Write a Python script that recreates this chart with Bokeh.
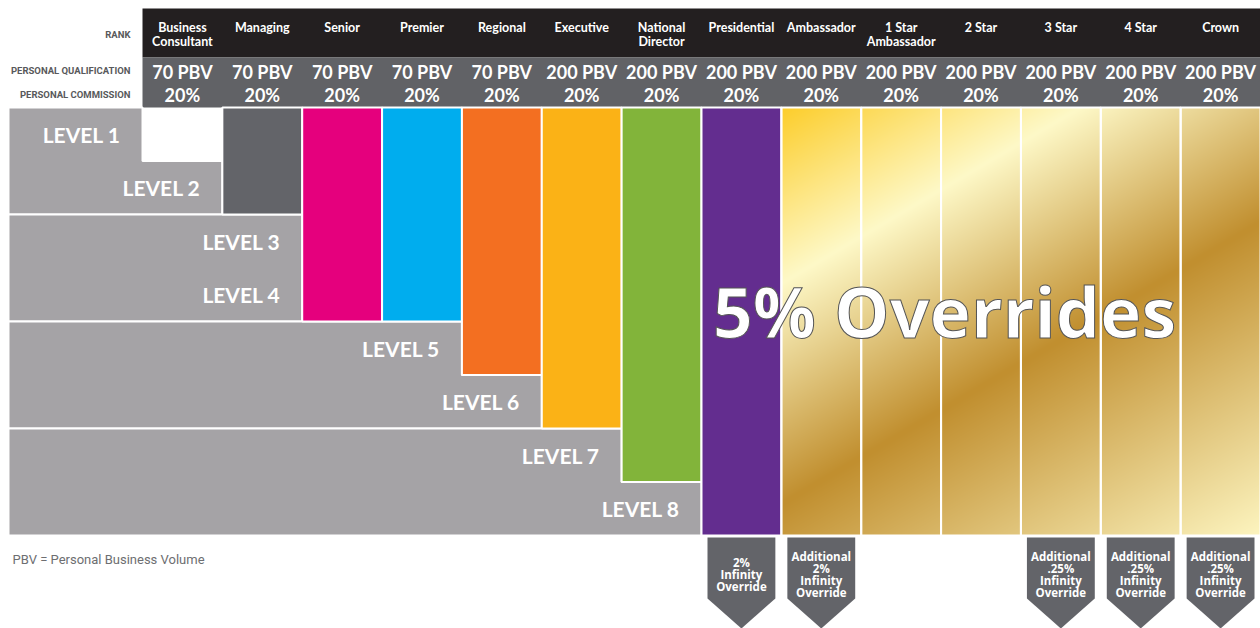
import numpy as np
from bokeh.plotting import figure
from bokeh.models import Range1d
from bokeh.core.properties import value
from bokeh.embed import file_html
from bokeh.resources import INLINE

# ---------------- data ----------------
ranks = ["Business\nConsultant", "Managing", "Senior", "Premier", "Regional",
         "Executive", "National\nDirector", "Presidential", "Ambassador",
         "1 Star\nAmbassador", "2 Star", "3 Star", "4 Star", "Crown"]
qualification = ["70 PBV", "70 PBV", "70 PBV", "70 PBV", "70 PBV",
                 "200 PBV", "200 PBV", "200 PBV", "200 PBV", "200 PBV",
                 "200 PBV", "200 PBV", "200 PBV", "200 PBV"]
commission = ["20%", "20%", "20%", "20%", "20%", "20%", "20%",
              "20%", "20%", "20%", "20%", "20%", "20%", "20%"]
levels_paid = [1, 2, 4, 4, 5, 6, 7, 8, 8, 8, 8, 8, 8, 8]
level_names = ["LEVEL 1", "LEVEL 2", "LEVEL 3", "LEVEL 4",
               "LEVEL 5", "LEVEL 6", "LEVEL 7", "LEVEL 8"]
row_labels = ["RANK", "PERSONAL QUALIFICATION", "PERSONAL COMMISSION"]
override_ranks = ["Presidential", "Ambassador", "3 Star", "4 Star", "Crown"]
override_texts = ["2%\nInfinity\nOverride",
                  "Additional\n2%\nInfinity\nOverride",
                  "Additional\n.25%\nInfinity\nOverride",
                  "Additional\n.25%\nInfinity\nOverride",
                  "Additional\n.25%\nInfinity\nOverride"]
headline = "5% Overrides"
footnote = "PBV = Personal Business Volume"

# ---------------- style / layout ----------------
rank_fill = [None, "#636469", "#e5007d", "#00adee", "#f36f21", "#fbb216",
             "#82b43a", "#632d8f", "gold", "gold", "gold", "gold", "gold", "gold"]
LEVEL_BLOCKS = [[0, 1], [2, 3], [4, 5], [6, 7]]
GRAY = "#a5a3a6"
DARK = "#636469"
BLACK = "#231f20"
LABEL_GRAY = "#58595b"
GOLD_STOPS = [(489, (252, 206, 44)), (640, (254, 249, 200)),
              (830, (193, 143, 47)), (1100, (253, 245, 192))]

W_PX, H_PX = 1260, 628
def Y(py):
    return H_PX - py

X_LEFT, COL_X0, X_RIGHT = 8, 142, 1260
N = len(ranks)
COL_W = (X_RIGHT - COL_X0) / N
HDR_TOP, HDR_MID, BODY_TOP, BODY_BOT = 8, 57, 107, 535
ROW_H = (BODY_BOT - BODY_TOP) / len(level_names)
AR_TOP, AR_SIDE, AR_TIP, AR_INSET = 537, 598, 628, 6

def col_left(i):
    return COL_X0 + i * COL_W

def col_center(i):
    return COL_X0 + (i + 0.5) * COL_W

def level_top(k):
    return BODY_TOP + k * ROW_H

def level_end(k):
    first = next(i for i, d in enumerate(levels_paid) if d >= k + 1)
    return col_left(first)

p = figure(width=W_PX, height=H_PX, x_range=Range1d(0, W_PX), y_range=Range1d(0, H_PX),
           output_backend="svg", toolbar_location=None, tools="", min_border=0)
p.axis.visible = False
p.grid.visible = False
p.outline_line_color = None
p.background_fill_color = "white"
p.border_fill_color = "white"

# header bands
p.quad(left=[COL_X0], right=[X_RIGHT], top=[Y(HDR_TOP)], bottom=[Y(HDR_MID)],
       fill_color=BLACK, line_color=None)
p.quad(left=[COL_X0], right=[X_RIGHT], top=[Y(HDR_MID)], bottom=[Y(BODY_TOP)],
       fill_color="#616266", line_color=None)

# gray level blocks
xs, ys = [], []
for block in LEVEL_BLOCKS:
    px = [X_LEFT]
    py = [Y(level_top(block[0]))]
    for k in block:
        e = level_end(k)
        px += [e, e]
        py += [Y(level_top(k)), Y(level_top(k + 1))]
    px.append(X_LEFT)
    py.append(Y(level_top(block[-1] + 1)))
    xs.append(px)
    ys.append(py)
p.patches(xs=xs, ys=ys, fill_color=GRAY, line_color="white", line_width=2)

# gold gradient image
gold_idx = [i for i, c in enumerate(rank_fill) if c == "gold"]
gx0 = col_left(gold_idx[0])
gx1 = col_left(gold_idx[-1] + 1)
w_px = int(round(gx1 - gx0))
h_px = int(round(BODY_BOT - BODY_TOP))
cols_px = gx0 + np.arange(w_px) + 0.5
rows_py = BODY_BOT - np.arange(h_px) - 0.5
XX, YY = np.meshgrid(cols_px, rows_py)
U = 0.507 * XX + 0.862 * YY
su = [s[0] for s in GOLD_STOPS]
rgb = np.zeros((h_px, w_px, 4), dtype=np.uint8)
for ch in range(3):
    rgb[:, :, ch] = np.interp(U, su, [s[1][ch] for s in GOLD_STOPS]).astype(np.uint8)
rgb[:, :, 3] = 255
img = rgb.view(dtype=np.uint32).reshape((h_px, w_px))
p.image_rgba(image=[img], x=gx0, y=Y(BODY_BOT), dw=gx1 - gx0, dh=BODY_BOT - BODY_TOP)

# colored rank columns
ql, qr, qt, qb, qc = [], [], [], [], []
for i, c in enumerate(rank_fill):
    if c is None:
        continue
    ql.append(col_left(i)); qr.append(col_left(i + 1))
    qt.append(Y(BODY_TOP)); qb.append(Y(level_top(levels_paid[i])))
    qc.append(c if c != "gold" else None)
p.quad(left=ql, right=qr, top=qt, bottom=qb, fill_color=qc,
       fill_alpha=[0 if c is None else 1 for c in qc], line_color="white", line_width=2)

# header texts
p.text(x=[col_center(i) for i in range(N)], y=[Y(19.5)] * N, text=ranks,
       text_align="center", text_baseline="top", text_color="white",
       text_font=value("Lato"), text_font_style="bold", text_font_size="12.5px",
       text_line_height=0.91)
p.text(x=[col_center(i) for i in range(N)], y=[Y(71.5)] * N, text=qualification,
       text_align="center", text_baseline="middle", text_color="white",
       text_font=value("Lato"), text_font_style="bold", text_font_size="18px")
p.text(x=[col_center(i) for i in range(N)], y=[Y(94)] * N, text=commission,
       text_align="center", text_baseline="middle", text_color="white",
       text_font=value("Lato"), text_font_style="bold", text_font_size="18px")
p.text(x=[130] * 3, y=[Y(34), Y(70), Y(94)], text=row_labels,
       text_align="right", text_baseline="middle", text_color=LABEL_GRAY,
       text_font=value("Roboto"), text_font_style="bold",
       text_font_size="9.5px")

# level labels
p.text(x=[level_end(k) - 22 for k in range(len(level_names))],
       y=[Y(level_top(k) + ROW_H / 2) for k in range(len(level_names))],
       text=level_names, text_align="right", text_baseline="middle",
       text_color="white", text_font=value("Lato"), text_font_style="bold",
       text_font_size="21px")

# headline
p.text(x=[944], y=[Y(310)], text=[headline], text_align="center",
       text_baseline="middle", text_color="white", text_font=value("Open Sans"),
       text_font_style="bold", text_font_size="70px", text_outline_color="#555555")

# override arrows
axs, ays, acx = [], [], []
for r in override_ranks:
    i = ranks.index(r)
    l = col_left(i) + AR_INSET
    rr = col_left(i + 1) - AR_INSET
    cx = col_center(i)
    axs.append([l, rr, rr, cx, l])
    ays.append([Y(AR_TOP), Y(AR_TOP), Y(AR_SIDE), Y(AR_TIP), Y(AR_SIDE)])
    acx.append(cx)
p.patches(xs=axs, ys=ays, fill_color=DARK, line_color=None)
p.text(x=acx, y=[Y(574)] * len(acx), text=override_texts, text_align="center",
       text_baseline="middle", text_color="white", text_font=value("Open Sans"),
       text_font_style="bold", text_font_size="11.5px", text_line_height=0.79)

# footnote
p.text(x=[12], y=[Y(559)], text=[footnote], text_align="left",
       text_baseline="middle", text_color="#6d6e71",
       text_font=value("Roboto"), text_font_size="13px")

open("out.html", "w").write(file_html(p, INLINE))
